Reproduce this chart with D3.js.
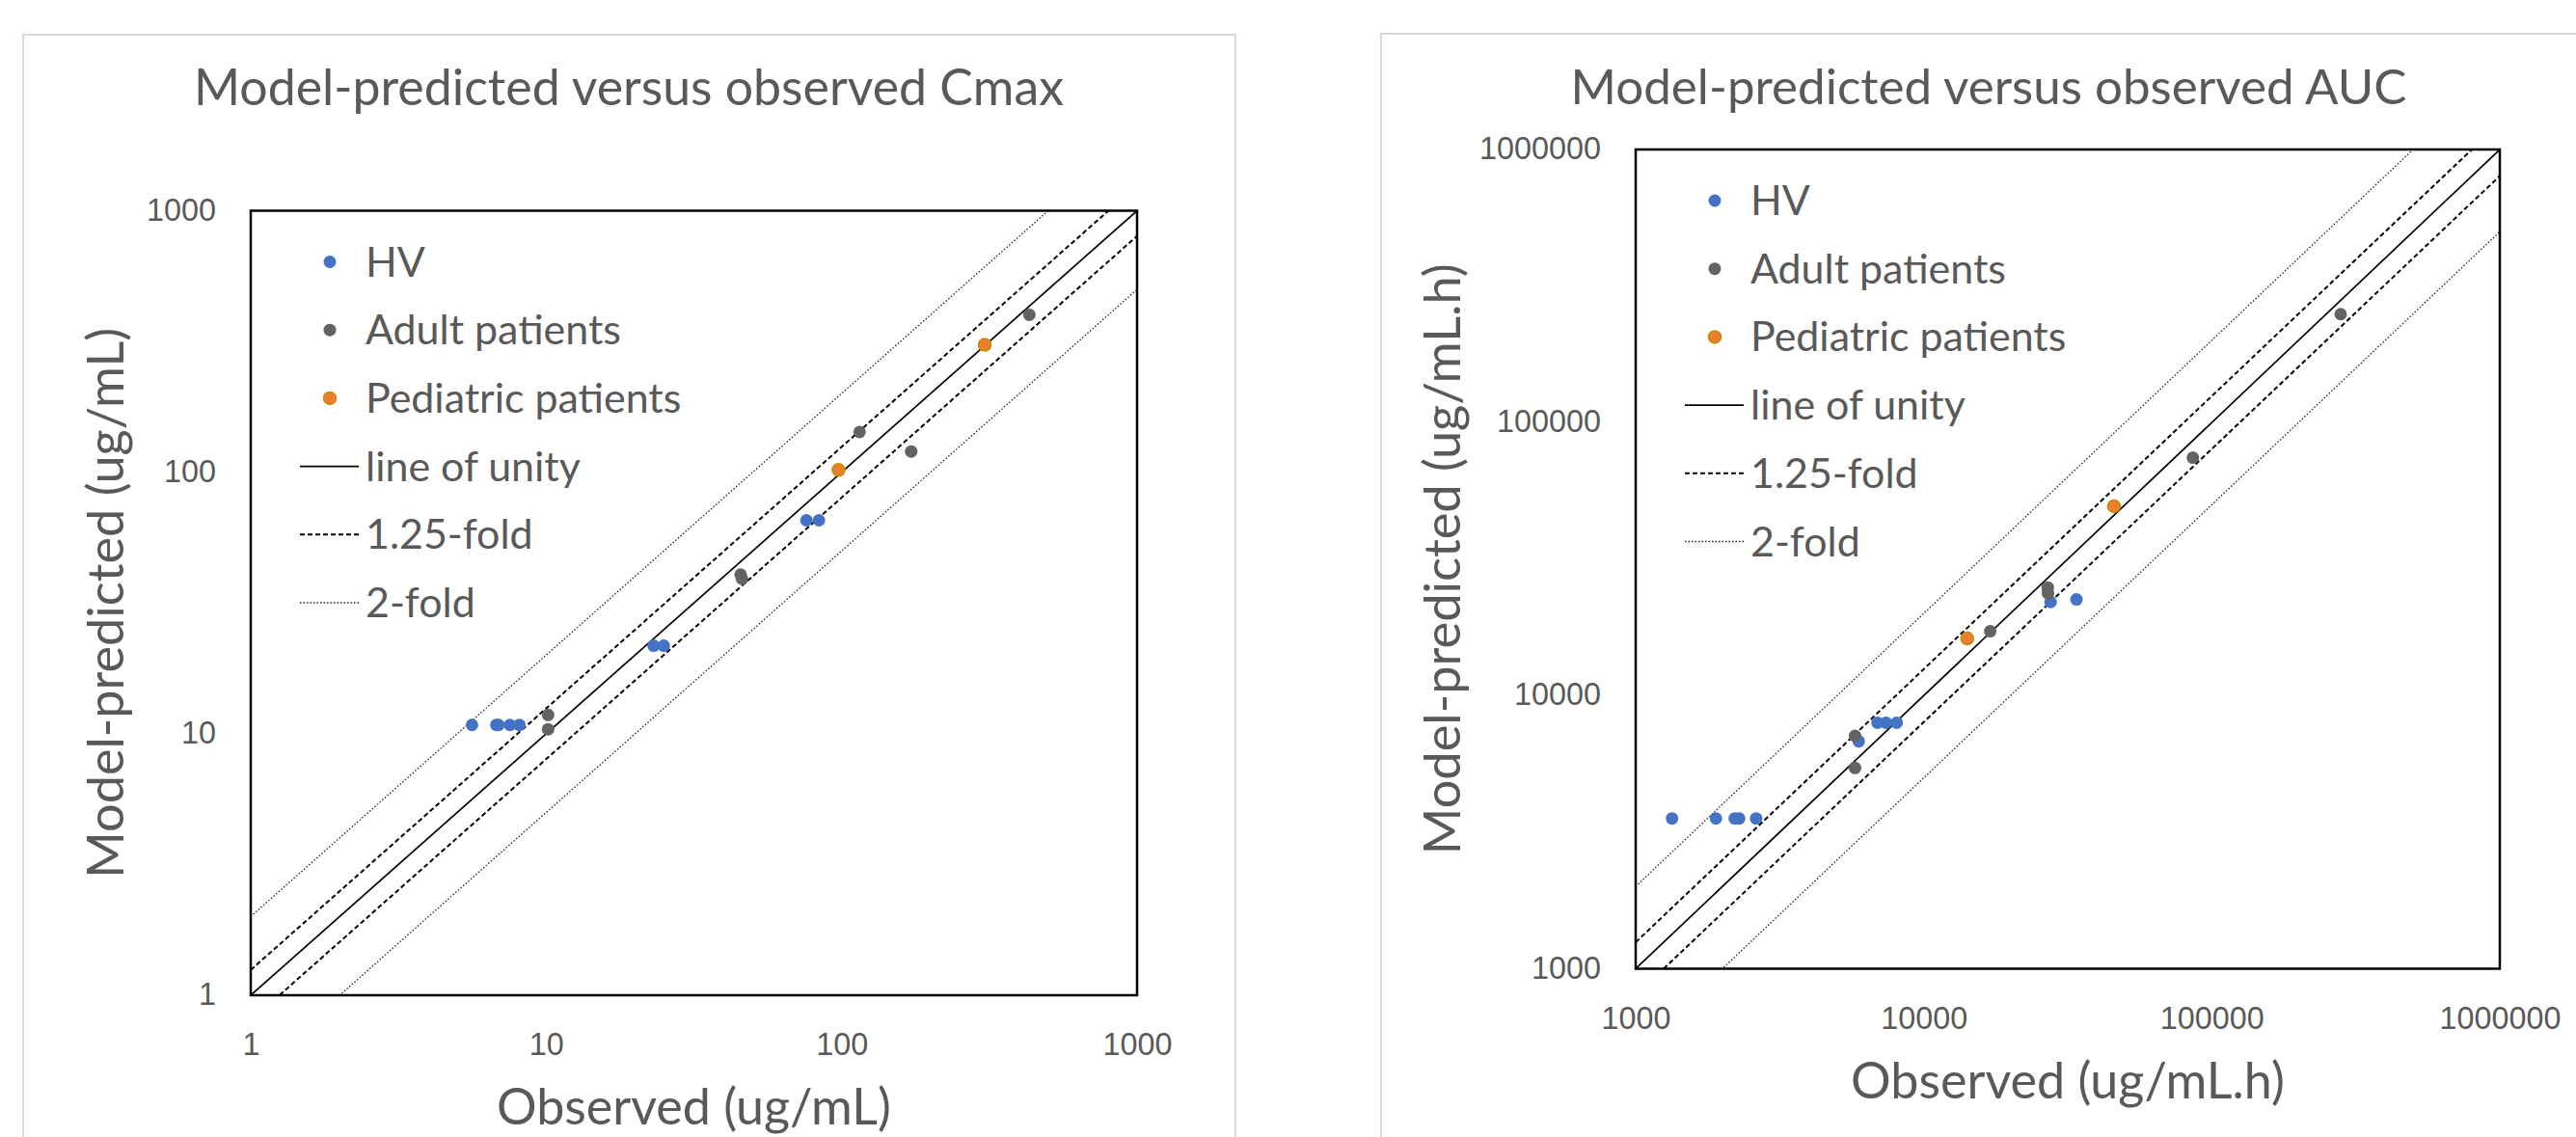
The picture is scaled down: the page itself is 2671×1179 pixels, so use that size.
<!DOCTYPE html>
<html>
<head>
<meta charset="utf-8">
<script src="https://cdn.jsdelivr.net/npm/d3@7"></script>
<style>
  html, body { margin: 0; padding: 0; background: #fff; }
  svg { display: block; font-family: Lato, 'Open Sans', sans-serif; }
</style>
</head>
<body>
<svg id="chart" width="2671" height="1179"></svg>
<script>
// values: [observed, predicted]
const cmaxHV = [[5.61, 10.8], [6.78, 10.8], [6.9, 10.8], [7.54, 10.8], [8.12, 10.8],
  [23.1, 21.7], [25.0, 21.7], [76, 65.5], [83.8, 65.5]];
const cmaxAdult = [[10.15, 11.8], [10.15, 10.4], [45.5, 40.6], [46, 39.1],
  [115, 142.5], [172, 120], [432, 400]];
const cmaxPediatric = [[97.6, 102], [305, 307]];

const aucHV = [[1337, 3550], [1899, 3550], [2207, 3550], [2287, 3550], [2619, 3550],
  [6912, 7960], [7396, 7960], [8058, 7960], [5949, 6806], [27580, 22020], [33910, 22510]];
const aucAdult = [[5775, 7122], [5775, 5433], [17010, 17210], [26950, 24900], [27000, 23700],
  [86000, 74350], [280200, 249500]];
const aucPediatric = [[14160, 16200], [45740, 49360]];

const cmaxTicks = [1, 10, 100, 1000];
const aucTicks = [1000, 10000, 100000, 1000000];
const seriesNames = ['HV', 'Adult patients', 'Pediatric patients'];
const lineNames = ['line of unity', '1.25-fold', '2-fold'];
const foldFactors = [1, 1.25, 2];

const TEXT = '#595959';
const svg = d3.select('#chart');

// scale a text's font-size so its width hits a target measured on the reference
function fit(sel, target) {
  const w = sel.node().getComputedTextLength();
  const size = parseFloat(sel.attr('font-size')) * target / w;
  sel.attr('font-size', size);
  return size;
}

function drawPanel(cfg, idx) {
  const x = d3.scaleLog().domain(cfg.domain).range([cfg.x0, cfg.x1]);
  const y = d3.scaleLog().domain(cfg.domain).range([cfg.y1, cfg.y0]);
  const g = svg.append('g');

  // chart area border (light gray, only partly visible)
  g.append('rect').attr('x', cfg.frameX).attr('y', cfg.frameY)
    .attr('width', cfg.frameW).attr('height', 1300)
    .attr('fill', 'none').attr('stroke', '#d9d9d9').attr('stroke-width', 2);

  // title
  const title = g.append('text').attr('x', cfg.titleX).attr('y', cfg.titleY)
    .attr('text-anchor', 'middle').attr('fill', TEXT).attr('font-size', 60).text(cfg.title);
  fit(title, cfg.titleW);

  g.append('clipPath').attr('id', 'clip-' + idx).append('rect')
    .attr('x', cfg.x0).attr('y', cfg.y0).attr('width', cfg.x1 - cfg.x0).attr('height', cfg.y1 - cfg.y0);

  // reference lines: unity, 1.25-fold, 2-fold
  const styles = { 1: ['#000', 1.7, null], 1.25: ['#000', 2, '5,3'], 2: ['#222', 1.3, '1.5,2'] };
  const lines = g.append('g').attr('clip-path', 'url(#clip-' + idx + ')');
  const ends = cfg.domain;
  foldFactors.forEach(function (f) {
    const st = styles[f];
    (f === 1 ? [1] : [f, 1 / f]).forEach(function (k) {
      lines.append('line')
        .attr('x1', x(ends[0])).attr('y1', y(ends[0] * k))
        .attr('x2', x(ends[1])).attr('y2', y(ends[1] * k))
        .attr('stroke', st[0]).attr('stroke-width', st[1])
        .attr('stroke-dasharray', st[2]);
    });
  });

  // axes (labels only; the frame is drawn as a box)
  const fmt = d3.format('d');
  const xAxis = g.append('g').attr('transform', 'translate(0,' + cfg.y1 + ')')
    .call(d3.axisBottom(x).tickValues(cfg.ticks).tickFormat(fmt).tickSize(0).tickPadding(0));
  const yAxis = g.append('g').attr('transform', 'translate(' + cfg.x0 + ',0)')
    .call(d3.axisLeft(y).tickValues(cfg.ticks).tickFormat(fmt).tickSize(0).tickPadding(0));
  [xAxis, yAxis].forEach(function (a) {
    a.select('.domain').remove();
    a.selectAll('text').attr('fill', TEXT).attr('font-family', null);
  });
  const probe = xAxis.selectAll('text').filter(function (d) { return String(d).length === 4; }).attr('font-size', 30);
  const tickSize = fit(probe, 72);
  xAxis.attr('font-size', null);
  yAxis.attr('font-size', null);
  xAxis.selectAll('text').attr('font-size', tickSize).attr('dy', null).attr('y', 62);
  yAxis.selectAll('text').attr('font-size', tickSize).attr('dy', null).attr('x', -36).attr('y', 9.5);

  // plot frame
  g.append('rect').attr('x', cfg.x0).attr('y', cfg.y0)
    .attr('width', cfg.x1 - cfg.x0).attr('height', cfg.y1 - cfg.y0)
    .attr('fill', 'none').attr('stroke', '#000').attr('stroke-width', 2.5);

  // markers
  const series = [
    { data: cfg.hv, fill: '#4472C4', stroke: 'none' },
    { data: cfg.adult, fill: '#636363', stroke: 'none' },
    { data: cfg.ped, fill: '#ED7D31', stroke: '#BF8F00' }
  ];
  series.forEach(function (s) {
    g.append('g').selectAll('circle').data(s.data).join('circle')
      .attr('cx', function (d) { return x(d[0]); })
      .attr('cy', function (d) { return y(d[1]); })
      .attr('r', 6.5).attr('fill', s.fill)
      .attr('stroke', s.stroke).attr('stroke-width', 1.5);
  });

  // axis titles
  const xt = g.append('text').attr('x', (cfg.x0 + cfg.x1) / 2).attr('y', cfg.y1 + 134)
    .attr('text-anchor', 'middle').attr('fill', TEXT).attr('font-size', 60).text(cfg.xTitle);
  fit(xt, cfg.xTitleW);
  const yt = g.append('text')
    .attr('transform', 'translate(' + cfg.yTitleX + ',' + (cfg.y0 + cfg.y1) / 2 + ') rotate(-90)')
    .attr('text-anchor', 'middle').attr('fill', TEXT).attr('font-size', 60).text(cfg.yTitle);
  fit(yt, cfg.yTitleW);

  // legend
  const leg = g.append('g').attr('transform', 'translate(' + cfg.x0 + ',' + cfg.y0 + ')');
  const labels = seriesNames.concat(lineNames);
  const rows = leg.selectAll('g').data(labels).join('g')
    .attr('transform', function (d, i) { return 'translate(0,' + (53 + i * 70.7) + ')'; });
  const texts = rows.append('text').attr('x', 119).attr('y', 15).attr('fill', TEXT)
    .attr('font-size', 45).text(function (d) { return d; });
  const legSize = fit(texts.filter(function (d) { return d === 'Adult patients'; }), 265);
  texts.attr('font-size', legSize);
  rows.filter(function (d, i) { return i < 3; }).append('circle')
    .attr('cx', 82).attr('cy', 0).attr('r', 6.5)
    .attr('fill', function (d, i) { return series[i].fill; })
    .attr('stroke', function (d, i) { return series[i].stroke; }).attr('stroke-width', 1.5);
  rows.filter(function (d, i) { return i >= 3; }).append('line')
    .attr('x1', 51).attr('x2', 112).attr('y1', 0).attr('y2', 0)
    .attr('stroke', function (d, i) { return styles[foldFactors[i]][0]; })
    .attr('stroke-width', function (d, i) { return styles[foldFactors[i]][1]; })
    .attr('stroke-dasharray', function (d, i) { return styles[foldFactors[i]][2]; });
}

drawPanel({
  title: 'Model-predicted versus observed Cmax', titleX: 652, titleY: 109, titleW: 902,
  xTitle: 'Observed (ug/mL)', xTitleW: 409, yTitle: 'Model-predicted (ug/mL)', yTitleW: 571, yTitleX: 128,
  frameX: 24, frameY: 36, frameW: 1257,
  x0: 260, x1: 1179, y0: 218.5, y1: 1032,
  domain: [1, 1000], ticks: cmaxTicks,
  hv: cmaxHV, adult: cmaxAdult, ped: cmaxPediatric
}, 0);

drawPanel({
  title: 'Model-predicted versus observed AUC', titleX: 2062, titleY: 107.5, titleW: 867,
  xTitle: 'Observed (ug/mL.h)', xTitleW: 450, yTitle: 'Model-predicted (ug/mL.h)', yTitleW: 613, yTitleX: 1513.5,
  frameX: 1432, frameY: 35, frameW: 1400,
  x0: 1696, x1: 2592, y0: 155, y1: 1004.5,
  domain: [1000, 1000000], ticks: aucTicks,
  hv: aucHV, adult: aucAdult, ped: aucPediatric
}, 1);
</script>
</body>
</html>
